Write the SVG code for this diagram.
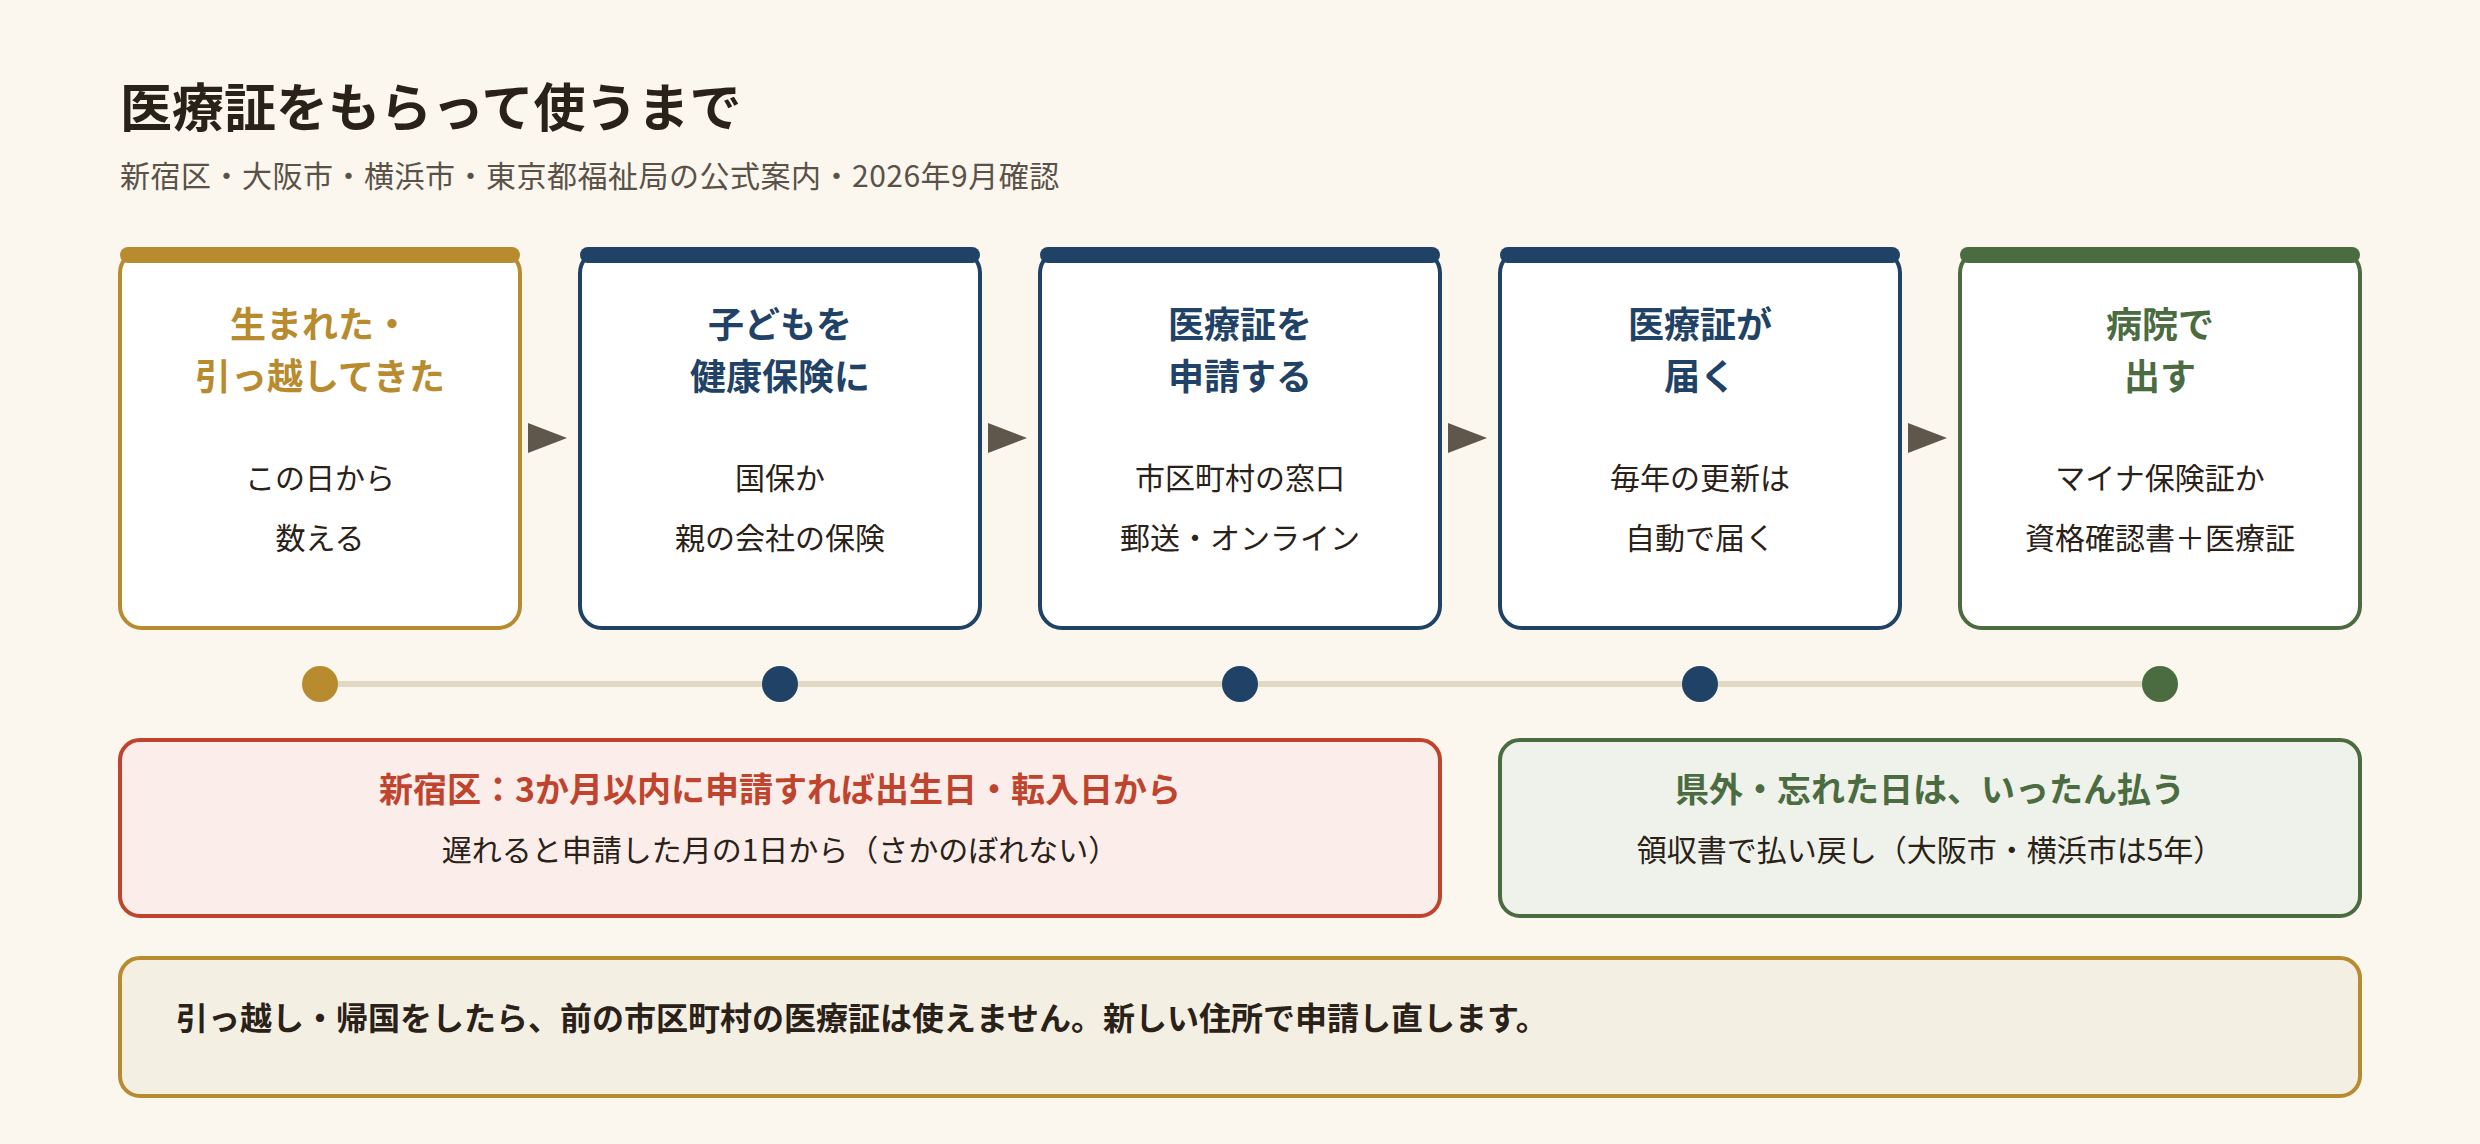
<svg xmlns="http://www.w3.org/2000/svg" width="2480" height="1144" viewBox="0 0 2480 1144">
<defs>
<style>
text{font-family:"Noto Sans CJK JP","Noto Sans",sans-serif;}
.title{font-size:52px;font-weight:700;fill:#2a2118;}
.sub{font-size:30px;fill:#5a5249;letter-spacing:0.5px;}
.card{fill:#ffffff;stroke-width:4;}
.ct{font-size:36px;font-weight:700;text-anchor:middle;}
.cb{font-size:30px;fill:#2a2118;text-anchor:middle;}
.gold{fill:#b88b2e;}
.navy{fill:#1f4266;}
.green{fill:#4b6b41;}
.sgold{stroke:#b88b2e;}
.snavy{stroke:#1f4266;}
.sgreen{stroke:#4b6b41;}
.arrow{fill:#5f574b;}
.bt{font-size:34px;font-weight:700;text-anchor:middle;}
.bs{font-size:30px;fill:#2a2118;text-anchor:middle;}
</style>
</defs>
<rect x="0" y="0" width="2480" height="1144" fill="#fbf7ee"/>
<g id="header">
<text class="title" x="120" y="127">医療証をもらって使うまで</text>
<text class="sub" x="120" y="187">新宿区・大阪市・横浜市・東京都福祉局の公式案内・2026年9月確認</text>
</g>
<g id="connectors">
<polygon class="arrow" points="528,423 567,438 528,453"/>
<polygon class="arrow" points="988,423 1027,438 988,453"/>
<polygon class="arrow" points="1448,423 1487,438 1448,453"/>
<polygon class="arrow" points="1908,423 1947,438 1908,453"/>
<line x1="320" y1="684" x2="2160" y2="684" stroke="#e2d9c5" stroke-width="6"/>
</g>
<g id="step1">
<rect class="card sgold" x="120" y="251" width="400" height="377" rx="22"/>
<rect class="gold" x="120" y="247" width="400" height="16" rx="8"/>
<text class="ct gold" x="320" y="338">生まれた・</text>
<text class="ct gold" x="320" y="390">引っ越してきた</text>
<text class="cb" x="320" y="489">この日から</text>
<text class="cb" x="320" y="549">数える</text>
</g>
<g id="step2">
<rect class="card snavy" x="580" y="251" width="400" height="377" rx="22"/>
<rect class="navy" x="580" y="247" width="400" height="16" rx="8"/>
<text class="ct navy" x="780" y="338">子どもを</text>
<text class="ct navy" x="780" y="390">健康保険に</text>
<text class="cb" x="780" y="489">国保か</text>
<text class="cb" x="780" y="549">親の会社の保険</text>
</g>
<g id="step3">
<rect class="card snavy" x="1040" y="251" width="400" height="377" rx="22"/>
<rect class="navy" x="1040" y="247" width="400" height="16" rx="8"/>
<text class="ct navy" x="1240" y="338">医療証を</text>
<text class="ct navy" x="1240" y="390">申請する</text>
<text class="cb" x="1240" y="489">市区町村の窓口</text>
<text class="cb" x="1240" y="549">郵送・オンライン</text>
</g>
<g id="step4">
<rect class="card snavy" x="1500" y="251" width="400" height="377" rx="22"/>
<rect class="navy" x="1500" y="247" width="400" height="16" rx="8"/>
<text class="ct navy" x="1700" y="338">医療証が</text>
<text class="ct navy" x="1700" y="390">届く</text>
<text class="cb" x="1700" y="489">毎年の更新は</text>
<text class="cb" x="1700" y="549">自動で届く</text>
</g>
<g id="step5">
<rect class="card sgreen" x="1960" y="251" width="400" height="377" rx="22"/>
<rect class="green" x="1960" y="247" width="400" height="16" rx="8"/>
<text class="ct green" x="2160" y="338">病院で</text>
<text class="ct green" x="2160" y="390">出す</text>
<text class="cb" x="2160" y="489">マイナ保険証か</text>
<text class="cb" x="2160" y="549">資格確認書＋医療証</text>
</g>
<g id="timeline-dots">
<circle class="gold" cx="320" cy="684" r="18"/>
<circle class="navy" cx="780" cy="684" r="18"/>
<circle class="navy" cx="1240" cy="684" r="18"/>
<circle class="navy" cx="1700" cy="684" r="18"/>
<circle class="green" cx="2160" cy="684" r="18"/>
</g>
<g id="note-shinjuku">
<rect x="120" y="740" width="1320" height="176" rx="20" fill="#fbeeea" stroke="#c0432e" stroke-width="4"/>
<text class="bt" x="780" y="802" fill="#c0432e">新宿区：3か月以内に申請すれば出生日・転入日から</text>
<text class="bs" x="780" y="861">遅れると申請した月の1日から（さかのぼれない）</text>
</g>
<g id="note-outside">
<rect x="1500" y="740" width="860" height="176" rx="20" fill="#eef2ea" stroke="#4b6b41" stroke-width="4"/>
<text class="bt green" x="1930" y="802">県外・忘れた日は、いったん払う</text>
<text class="bs" x="1930" y="861">領収書で払い戻し（大阪市・横浜市は5年）</text>
</g>
<g id="note-moving">
<rect x="120" y="958" width="2240" height="138" rx="20" fill="#f3efe3" stroke="#b88b2e" stroke-width="4"/>
<text x="176" y="1030" font-size="32" font-weight="700" fill="#2a2118">引っ越し・帰国をしたら、前の市区町村の医療証は使えません。新しい住所で申請し直します。</text>
</g>
</svg>
